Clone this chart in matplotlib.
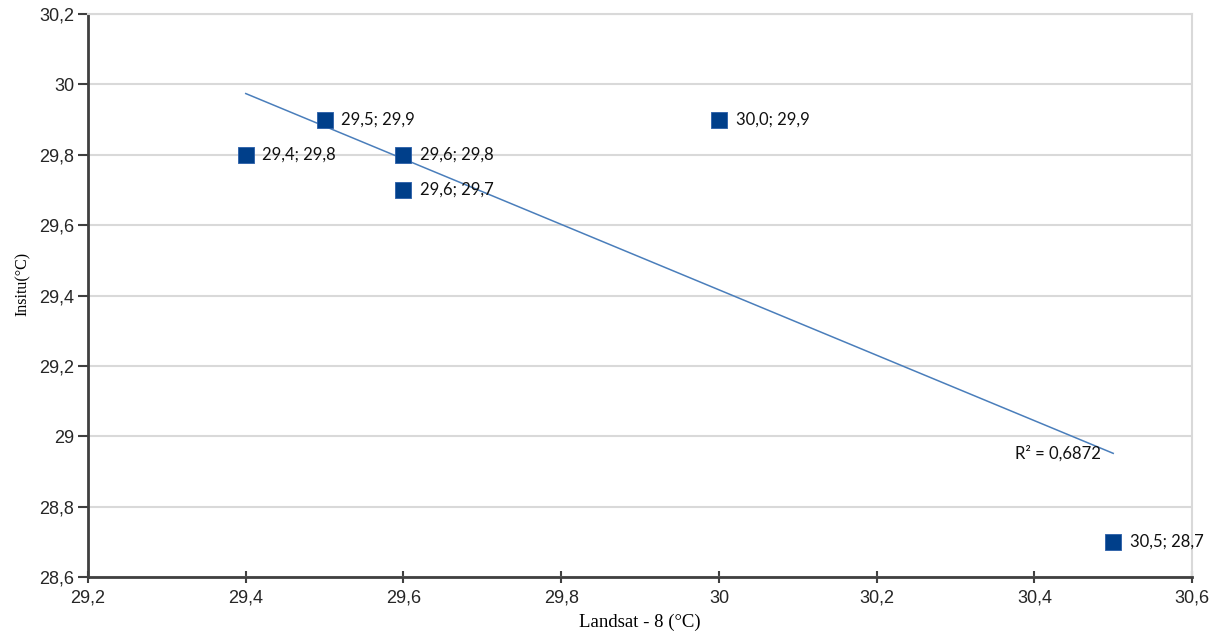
import matplotlib.pyplot as plt
import numpy as np

# data
landsat = [29.4, 29.5, 29.6, 29.6, 30.0, 30.5]
insitu = [29.8, 29.9, 29.8, 29.7, 29.9, 28.7]
point_labels = ["29,4; 29,8", "29,5; 29,9", "29,6; 29,8", "29,6; 29,7", "30,0; 29,9", "30,5; 28,7"]
xticks = [29.2, 29.4, 29.6, 29.8, 30.0, 30.2, 30.4, 30.6]
xtick_labels = ["29,2", "29,4", "29,6", "29,8", "30", "30,2", "30,4", "30,6"]
yticks = [28.6, 28.8, 29.0, 29.2, 29.4, 29.6, 29.8, 30.0, 30.2]
ytick_labels = ["28,6", "28,8", "29", "29,2", "29,4", "29,6", "29,8", "30", "30,2"]

fig = plt.figure(figsize=(12.21, 6.42), dpi=100)
ax = fig.add_axes([0.0721, 0.1012, 0.9042, 0.8768])

# linear trend line over the data range
slope, intercept = np.polyfit(landsat, insitu, 1)
xs = np.array([min(landsat), max(landsat)])
ax.plot(xs, slope * xs + intercept, color="#4a7ebb", lw=1.1, zorder=3)
r2 = np.corrcoef(landsat, insitu)[0, 1] ** 2

ax.scatter(landsat, insitu, marker="s", s=130, color="#003f8a", edgecolor="#2a5ea8",
           linewidths=0.6, zorder=4)
for x, y, lab in zip(landsat, insitu, point_labels):
    ax.annotate(lab, (x, y), xytext=(12, 0), textcoords="offset points",
                ha="left", va="center", fontsize=12, family="Lato", color="#111111")

ax.text(30.375, 28.95, "R² = " + f"{r2:.4f}".replace(".", ","), ha="left", va="center",
        fontsize=12, family="Lato", color="#111111")

ax.set_xlim(29.2, 30.6)
ax.set_ylim(28.6, 30.2)
ax.set_xticks(xticks)
ax.set_xticklabels(xtick_labels, family="Liberation Sans", fontsize=13, color="#262626")
ax.set_yticks(yticks)
ax.set_yticklabels(ytick_labels, family="Liberation Sans", fontsize=13, color="#262626")
ax.tick_params(axis="y", direction="out", length=7, width=1.5, color="#404040", pad=3)
ax.tick_params(axis="x", direction="inout", length=8, width=1.5, color="#404040", pad=5)

ax.yaxis.grid(True, color="#d9d9d9", lw=1.5)
ax.set_axisbelow(True)
for side in ["left", "bottom"]:
    ax.spines[side].set_color("#404040")
    ax.spines[side].set_linewidth(2)
for side in ["top", "right"]:
    ax.spines[side].set_color("#d9d9d9")
    ax.spines[side].set_linewidth(1.5)

ax.set_xlabel("Landsat - 8 (°C)", family="Liberation Serif", fontsize=13.5, labelpad=5)
ax.set_ylabel("Insitu(°C)", family="Liberation Serif", fontsize=11.5)
ax.yaxis.set_label_coords(-0.052, 0.52)

plt.savefig("out.png", dpi=100)
